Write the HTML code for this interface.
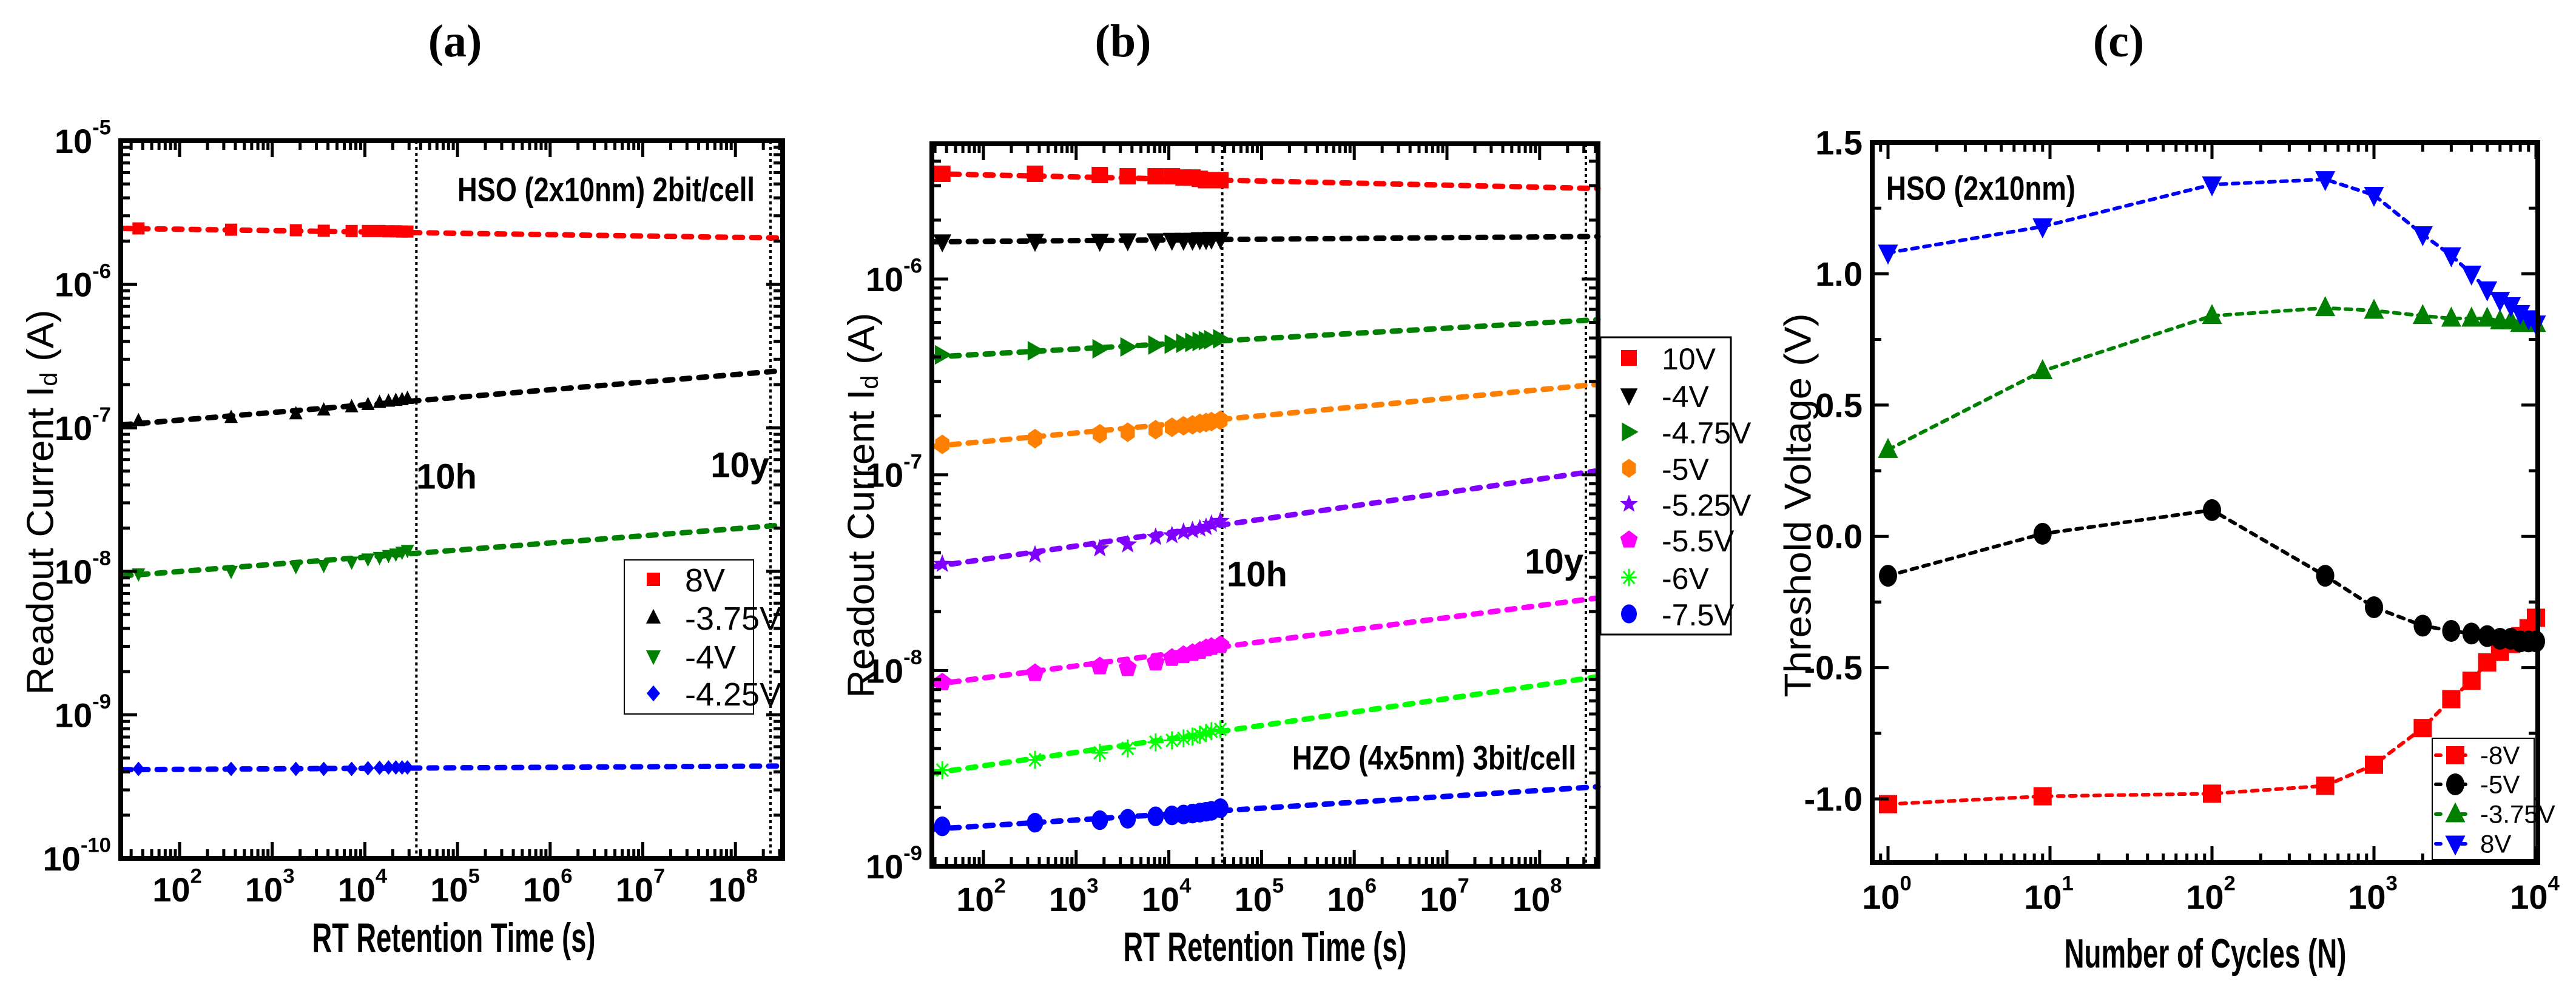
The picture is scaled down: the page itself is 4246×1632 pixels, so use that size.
<!DOCTYPE html>
<html><head><meta charset="utf-8"><style>
html,body{margin:0;padding:0;background:#fff}
svg{display:block}
</style></head><body>
<svg id="fig" width="4246" height="1632" viewBox="0 0 4246 1632" xmlns="http://www.w3.org/2000/svg" font-family="'Liberation Sans Narrow', 'Liberation Sans', sans-serif"></svg>
<script>
// ---------- Panel (a) data ----------
const aTimes = [36, 360, 1800, 3600, 7200, 10800, 14400, 18000, 21600, 25200, 28800];
const aLabels = ["8V", "-3.75V", "-4V", "-4.25V"];
const a8V = [2.45e-6, 2.4e-6, 2.38e-6, 2.36e-6, 2.35e-6, 2.35e-6, 2.35e-6, 2.34e-6, 2.34e-6, 2.33e-6, 2.33e-6];
const aM375 = [1.12e-7, 1.18e-7, 1.25e-7, 1.33e-7, 1.4e-7, 1.45e-7, 1.5e-7, 1.53e-7, 1.55e-7, 1.57e-7, 1.6e-7];
const aM4 = [9.6e-9, 1.0e-8, 1.08e-8, 1.1e-8, 1.16e-8, 1.22e-8, 1.25e-8, 1.29e-8, 1.32e-8, 1.36e-8, 1.4e-8];
const aM425 = [4.2e-10, 4.2e-10, 4.2e-10, 4.2e-10, 4.2e-10, 4.25e-10, 4.28e-10, 4.3e-10, 4.3e-10, 4.3e-10, 4.3e-10];
const aFitStart = [2.45e-6, 1.05e-7, 9.3e-9, 4.15e-10];
const aFitEnd = [2.1e-6, 2.5e-7, 2.1e-8, 4.4e-10];
const aXTicks = ["2", "3", "4", "5", "6", "7", "8"];
const aYTicks = ["-5", "-6", "-7", "-8", "-9", "-10"];

// ---------- Panel (b) data ----------
const bTimes = [36, 360, 1800, 3600, 7200, 10800, 14400, 18000, 21600, 25200, 28800, 36000];
const bLabels = ["10V", "-4V", "-4.75V", "-5V", "-5.25V", "-5.5V", "-6V", "-7.5V"];
const b10V = [3.45e-6, 3.45e-6, 3.4e-6, 3.35e-6, 3.35e-6, 3.35e-6, 3.3e-6, 3.3e-6, 3.25e-6, 3.2e-6, 3.2e-6, 3.2e-6];
const bM4 = [1.55e-6, 1.56e-6, 1.56e-6, 1.57e-6, 1.57e-6, 1.58e-6, 1.58e-6, 1.58e-6, 1.59e-6, 1.59e-6, 1.6e-6, 1.6e-6];
const bM475 = [4.1e-7, 4.3e-7, 4.4e-7, 4.5e-7, 4.6e-7, 4.65e-7, 4.7e-7, 4.75e-7, 4.8e-7, 4.85e-7, 4.9e-7, 4.95e-7];
const bM5 = [1.43e-7, 1.53e-7, 1.62e-7, 1.65e-7, 1.7e-7, 1.75e-7, 1.78e-7, 1.8e-7, 1.83e-7, 1.85e-7, 1.87e-7, 1.9e-7];
const bM525 = [3.5e-8, 3.9e-8, 4.2e-8, 4.4e-8, 4.8e-8, 4.9e-8, 5.1e-8, 5.2e-8, 5.3e-8, 5.4e-8, 5.6e-8, 5.8e-8];
const bM55 = [8.7e-9, 9.7e-9, 1.05e-8, 1.03e-8, 1.1e-8, 1.16e-8, 1.2e-8, 1.23e-8, 1.26e-8, 1.3e-8, 1.32e-8, 1.35e-8];
const bM6 = [3.1e-9, 3.5e-9, 3.8e-9, 4.0e-9, 4.3e-9, 4.4e-9, 4.5e-9, 4.6e-9, 4.7e-9, 4.8e-9, 4.9e-9, 5.0e-9];
const bM75 = [1.6e-9, 1.67e-9, 1.72e-9, 1.75e-9, 1.8e-9, 1.82e-9, 1.84e-9, 1.86e-9, 1.88e-9, 1.9e-9, 1.92e-9, 1.98e-9];
const bFitStart = [3.45e-6, 1.55e-6, 4.0e-7, 1.4e-7, 3.4e-8, 8.5e-9, 3.0e-9, 1.55e-9];
const bFitEnd = [2.9e-6, 1.65e-6, 6.2e-7, 2.9e-7, 1.05e-7, 2.35e-8, 9.3e-9, 2.55e-9];
const bXTicks = ["2", "3", "4", "5", "6", "7", "8"];
const bYTicks = ["-6", "-7", "-8", "-9"];

// ---------- Panel (c) data ----------
const cCycles = [1, 9, 100, 500, 1000, 2000, 3000, 4000, 5000, 6000, 7000, 8000, 9000, 10000];
const cLabels = ["-8V", "-5V", "-3.75V", "8V"];
const cM8 = [-1.02, -0.99, -0.98, -0.95, -0.87, -0.73, -0.62, -0.55, -0.48, -0.44, -0.41, -0.38, -0.35, -0.31];
const cM5 = [-0.15, 0.01, 0.10, -0.15, -0.27, -0.34, -0.36, -0.37, -0.38, -0.39, -0.39, -0.40, -0.40, -0.40];
const cM375 = [0.33, 0.63, 0.84, 0.87, 0.86, 0.84, 0.83, 0.83, 0.83, 0.82, 0.82, 0.81, 0.81, 0.81];
const c8V = [1.08, 1.18, 1.34, 1.36, 1.30, 1.15, 1.07, 1.00, 0.94, 0.90, 0.88, 0.85, 0.83, 0.81];
const cXTicks = ["0", "1", "2", "3", "4"];
const cYTicks = ["1.5", "1.0", "0.5", "0.0", "-0.5", "-1.0"];

const NS = "http://www.w3.org/2000/svg";
const svg = document.getElementById("fig");
function mk(tag, attrs, parent) {
  const e = document.createElementNS(NS, tag);
  for (const k in attrs) e.setAttribute(k, attrs[k]);
  (parent || svg).appendChild(e);
  return e;
}
const L = Math.log10;
const SERIF = "'Liberation Serif', serif";
const SANS = "'Liberation Sans', sans-serif";

function marker(g, shape, x, y, s, color) {
  let e;
  if (shape === "square") e = mk("rect", {x: x - s/2, y: y - s/2, width: s, height: s, fill: color}, g);
  else if (shape === "circle") e = mk("ellipse", {cx: x, cy: y, rx: s/2, ry: s*0.6, fill: color}, g);
  else if (shape === "up") e = mk("polygon", {points: `${x},${y-s*0.65} ${x+s*0.55},${y+s*0.45} ${x-s*0.55},${y+s*0.45}`, fill: color}, g);
  else if (shape === "down") e = mk("polygon", {points: `${x},${y+s*0.65} ${x+s*0.55},${y-s*0.45} ${x-s*0.55},${y-s*0.45}`, fill: color}, g);
  else if (shape === "right") e = mk("polygon", {points: `${x+s*0.6},${y} ${x-s*0.45},${y-s*0.6} ${x-s*0.45},${y+s*0.6}`, fill: color}, g);
  else if (shape === "diamond") e = mk("polygon", {points: `${x},${y-s*0.6} ${x+s*0.5},${y} ${x},${y+s*0.6} ${x-s*0.5},${y}`, fill: color}, g);
  else if (shape === "hex") { let p=[]; for(let i=0;i<6;i++){const a=Math.PI/6+i*Math.PI/3; p.push((x+s*0.5*Math.cos(a))+","+(y+s*0.6*Math.sin(a)));} e = mk("polygon",{points:p.join(" "),fill:color},g); }
  else if (shape === "pent") { let p=[]; for(let i=0;i<5;i++){const a=-Math.PI/2+i*2*Math.PI/5; p.push((x+s*0.58*Math.cos(a))+","+(y+s*0.6*Math.sin(a)));} e = mk("polygon",{points:p.join(" "),fill:color},g); }
  else if (shape === "star") { let p=[]; for(let i=0;i<10;i++){const a=-Math.PI/2+i*Math.PI/5; const r=(i%2?0.25:0.6)*s; p.push((x+r*Math.cos(a))+","+(y+r*Math.sin(a)));} e = mk("polygon",{points:p.join(" "),fill:color},g); }
  else if (shape === "aster") { e = mk("g", {stroke: color, "stroke-width": 3}, g); for (let i=0;i<4;i++){const a=i*Math.PI/4; mk("line",{x1:x-s*0.5*Math.cos(a),y1:y-s*0.55*Math.sin(a),x2:x+s*0.5*Math.cos(a),y2:y+s*0.55*Math.sin(a)},e);} }
  return e;
}

function text(str, x, y, opts, parent) {
  const t = mk("text", Object.assign({x: x, y: y, "dominant-baseline": "central"}, opts || {}), parent);
  t.textContent = str;
  return t;
}
function powLabel(g, exp, xr, y, size, anchor) {
  const t = mk("text", {x: xr, y: y, "font-size": size, "font-weight": "bold", "text-anchor": anchor, "dominant-baseline": "central"}, g);
  const a = mk("tspan", {}, t); a.textContent = "10";
  const b = mk("tspan", {dy: -size*0.38, "font-size": size*0.62}, t); b.textContent = exp;
  return t;
}

function frame(g, x0, x1, y0, y1) {
  mk("rect", {x: x0, y: y0, width: x1 - x0, height: y1 - y0, fill: "none", stroke: "#000", "stroke-width": 8}, g);
}
function tick(g, x1, y1, x2, y2) { mk("line", {x1, y1, x2, y2, stroke: "#000", "stroke-width": 5}, g); }

function logXTicks(g, X, lo, hi, x0, x1, y0, y1) {
  for (let d = Math.floor(lo); d <= Math.ceil(hi); d++) {
    for (let m = 1; m < 10; m++) {
      const lg = d + L(m); if (lg < lo || lg > hi) continue;
      const x = X(lg), len = m === 1 ? 27 : 15;
      tick(g, x, y1, x, y1 - len); tick(g, x, y0, x, y0 + len);
    }
  }
}
function logYTicks(g, Y, lo, hi, x0, x1) {
  for (let d = Math.floor(lo); d <= Math.ceil(hi); d++) {
    for (let m = 1; m < 10; m++) {
      const lg = d + L(m); if (lg < lo || lg > hi) continue;
      const y = Y(lg), len = m === 1 ? 27 : 15;
      tick(g, x0, y, x0 + len, y); tick(g, x1, y, x1 - len, y);
    }
  }
}
function dashLine(g, pts, color, w) {
  return mk("polyline", {points: pts.map(p => p.join(",")).join(" "), fill: "none", stroke: color, "stroke-width": w, "stroke-dasharray": "13 15", "stroke-linecap": "round"}, g);
}

// ================= Panel (a) =================
(function () {
  const g = mk("g", {});  
  const x0 = 199, x1 = 1290, y0 = 232, y1 = 1415;
  const X = lg => 296 + (lg - 2) * 152.7;
  const Y = lg => 232 + (-5 - lg) * 236.6;
  const xlo = 2 - (296 - x0) / 152.7, xhi = 8 + (x1 - 1212) / 152.7;
  const t = text("(a)", 750, 68, {"font-family": SERIF, "font-size": 76, "font-weight": "bold", "text-anchor": "middle"});
   
  const v1 = mk("line", {x1: X(L(36000)), y1: y0, x2: X(L(36000)), y2: y1, stroke: "#000", "stroke-width": 4, "stroke-dasharray": "5 5"}, g);
   
  const v2 = mk("line", {x1: 1270, y1: y0, x2: 1270, y2: y1, stroke: "#000", "stroke-width": 4, "stroke-dasharray": "5 5"}, g);
   
  const series = [a8V, aM375, aM4, aM425];
  const colors = ["#ff0000", "#000000", "#008000", "#0000ff"];
  const shapes = ["square", "up", "down", "diamond"];
  series.forEach((vals, i) => {
    const sg = mk("g", {}, g);
     
    dashLine(sg, [[x0 + 4, Y(L(aFitStart[i]))], [x1, Y(L(aFitEnd[i]))]], colors[i], 9);
    vals.forEach((v, j) => {
      const m = marker(sg, shapes[i], X(L(aTimes[j])), Y(L(v)), 20, colors[i]);
       
    });
  });
  frame(g, x0, x1, y0, y1);
  logXTicks(g, X, xlo, xhi, x0, x1, y0, y1);
  logYTicks(g, Y, -10, -5, x0, x1);
  aXTicks.forEach(e => { const l = powLabel(g, e, X(+e) - 4, 1466, 56, "middle");   });
  aYTicks.forEach(e => { const l = powLabel(g, e, x0 - 16, Y(+e), 56, "end");   });
  const xt = text("RT Retention Time (s)", 748, 1546, {"font-size": 68, "font-weight": "bold", "text-anchor": "middle", textLength: 467, lengthAdjust: "spacingAndGlyphs"}, g);
   
  const yt = mk("text", {x: 0, y: 0, "font-size": 62, "text-anchor": "middle", "dominant-baseline": "central", transform: "translate(67,828) rotate(-90)", textLength: 635, lengthAdjust: "spacingAndGlyphs", "font-family": SANS}, g);
  yt.innerHTML = 'Readout Current I<tspan font-size="40" dy="14">d</tspan><tspan dy="-14"> (A)</tspan>';
   
  const n1 = text("HSO (2x10nm) 2bit/cell", 1244, 312, {"font-size": 56, "font-weight": "bold", "text-anchor": "end", textLength: 490, lengthAdjust: "spacingAndGlyphs"}, g);
   
  const n2 = text("10h", 686, 786, {"font-size": 58, "font-weight": "bold"}, g);
   
  const n3 = text("10y", 1268, 767, {"font-size": 58, "font-weight": "bold", "text-anchor": "end"}, g);
   
  const lg = mk("g", {}, g);  
  mk("rect", {x: 1029, y: 923, width: 213, height: 254, fill: "#fff", stroke: "#000", "stroke-width": 2}, lg);
  const ly = [955, 1018, 1082, 1143];
  aLabels.forEach((lab, i) => {
    const e = mk("g", {}, lg);  
    marker(e, shapes[i], 1077, ly[i], 22, colors[i]);
    text(lab, 1129, ly[i] + 2, {"font-size": 54}, e);
  });
})();

// ================= Panel (b) =================
(function () {
  const g = mk("g", {});  
  const x0 = 1536, x1 = 2634, y0 = 237, y1 = 1428;
  const X = lg => 1621 + (lg - 2) * 152.8;
  const Y = lg => 460 + (-6 - lg) * 322.7;
  const xlo = 2 - (1621 - x0) / 152.8, xhi = 8 + (x1 - 2538) / 152.8;
  const ylo = -9, yhi = -6 + (460 - y0) / 322.7;
  const t = text("(b)", 1851, 68, {"font-family": SERIF, "font-size": 76, "font-weight": "bold", "text-anchor": "middle"});
   
  const v1 = mk("line", {x1: X(L(36000)) + 3, y1: y0, x2: X(L(36000)) + 3, y2: y1, stroke: "#000", "stroke-width": 4, "stroke-dasharray": "5 5"}, g);
   
  const v2 = mk("line", {x1: 2614, y1: y0, x2: 2614, y2: y1, stroke: "#000", "stroke-width": 4, "stroke-dasharray": "5 5"}, g);
   
  const series = [b10V, bM4, bM475, bM5, bM525, bM55, bM6, bM75];
  const colors = ["#ff0000", "#000000", "#008000", "#ff8000", "#8000ff", "#ff00ff", "#00ff00", "#0000ff"];
  const shapes = ["square", "down", "right", "hex", "star", "pent", "aster", "circle"];
  series.forEach((vals, i) => {
    const sg = mk("g", {}, g);
     
    dashLine(sg, [[x0 + 4, Y(L(bFitStart[i]))], [x1, Y(L(bFitEnd[i]))]], colors[i], 9);
    vals.forEach((v, j) => {
      const m = marker(sg, shapes[i], X(L(bTimes[j])), Y(L(v)), 27, colors[i]);
       
    });
  });
  frame(g, x0, x1, y0, y1);
  logXTicks(g, X, xlo, xhi, x0, x1, y0, y1);
  logYTicks(g, Y, ylo, yhi, x0, x1);
  bXTicks.forEach(e => { const l = powLabel(g, e, X(+e) - 4, 1482, 56, "middle");   });
  bYTicks.forEach(e => { const l = powLabel(g, e, x0 - 16, Y(+e), 56, "end");   });
  const xt = text("RT Retention Time (s)", 2085, 1561, {"font-size": 68, "font-weight": "bold", "text-anchor": "middle", textLength: 467, lengthAdjust: "spacingAndGlyphs"}, g);
   
  const yt = mk("text", {x: 0, y: 0, "font-size": 62, "text-anchor": "middle", "dominant-baseline": "central", transform: "translate(1420,833) rotate(-90)", textLength: 635, lengthAdjust: "spacingAndGlyphs", "font-family": SANS}, g);
  yt.innerHTML = 'Readout Current I<tspan font-size="40" dy="14">d</tspan><tspan dy="-14"> (A)</tspan>';
   
  const n1 = text("HZO (4x5nm) 3bit/cell", 2598, 1249, {"font-size": 56, "font-weight": "bold", "text-anchor": "end", textLength: 468, lengthAdjust: "spacingAndGlyphs"}, g);
   
  const n2 = text("10h", 2022, 947, {"font-size": 58, "font-weight": "bold"}, g);
   
  const n3 = text("10y", 2610, 926, {"font-size": 58, "font-weight": "bold", "text-anchor": "end"}, g);
   
  const lg = mk("g", {}, g);  
  mk("rect", {x: 2638, y: 556, width: 215, height: 490, fill: "#fff", stroke: "#000", "stroke-width": 3}, lg);
  const ly = [590, 652, 712, 772, 831, 890, 952, 1012];
  bLabels.forEach((lab, i) => {
    const e = mk("g", {}, lg);  
    marker(e, shapes[i], 2685, ly[i], 26, colors[i]);
    text(lab, 2739, ly[i] + 2, {"font-size": 50}, e);
  });
})();

// ================= Panel (c) =================
(function () {
  const g = mk("g", {});  
  const x0 = 3086, x1 = 4183, y0 = 235, y1 = 1422;
  const X = lg => 3112 + lg * 267;
  const Y = v => 235 + (1.5 - v) * 432.8;
  const xlo = (x0 - 3112) / 267, xhi = (x1 - 3112) / 267;
  const t = text("(c)", 3492, 68, {"font-family": SERIF, "font-size": 76, "font-weight": "bold", "text-anchor": "middle"});
   
  const series = [cM8, cM5, cM375, c8V];
  const colors = ["#ff0000", "#000000", "#008000", "#0000ff"];
  const shapes = ["square", "circle", "up", "down"];
  series.forEach((vals, i) => {
    const sg = mk("g", {}, g);
     
    dashLine(sg, vals.map((v, j) => [X(L(cCycles[j])), Y(v)]), colors[i], 6).setAttribute("stroke-dasharray", "10 10");
    vals.forEach((v, j) => {
      const m = marker(sg, shapes[i], X(L(cCycles[j])), Y(v), 30, colors[i]);
       
    });
  });
  frame(g, x0, x1, y0, y1);
  logXTicks(g, X, xlo, xhi, x0, x1, y0, y1);
  for (let k = 0; k <= 10; k++) {
    const v = 1.5 - k * 0.25; const y = Y(v); if (y > y1) continue;
    const len = k % 2 === 0 ? 27 : 15;
    tick(g, x0, y, x0 + len, y); tick(g, x1, y, x1 - len, y);
  }
  cXTicks.forEach(e => { const l = powLabel(g, e, X(+e) - 2, 1478, 56, "middle");   });
  cYTicks.forEach(v => { const l = text(v, x0 - 16, Y(+v), {"font-size": 56, "font-weight": "bold", "text-anchor": "end"}, g);   });
  const xt = text("Number of Cycles (N)", 3635, 1572, {"font-size": 68, "font-weight": "bold", "text-anchor": "middle", textLength: 465, lengthAdjust: "spacingAndGlyphs"}, g);
   
  const yt = text("Threshold Voltage (V)", 0, 0, {"font-size": 62, "text-anchor": "middle", transform: "translate(2964,833) rotate(-90)", textLength: 633, lengthAdjust: "spacingAndGlyphs", "font-family": SANS}, g);
   
  const n1 = text("HSO (2x10nm)", 3109, 310, {"font-size": 56, "font-weight": "bold", textLength: 312, lengthAdjust: "spacingAndGlyphs"}, g);
   
  const lg = mk("g", {}, g);  
  mk("rect", {x: 4009, y: 1217, width: 168, height: 200, fill: "#fff", stroke: "#000", "stroke-width": 2}, lg);
  const ly = [1245, 1293, 1342, 1391];
  cLabels.forEach((lab, i) => {
    const e = mk("g", {}, lg);  
    mk("line", {x1: 4015, y1: ly[i], x2: 4076, y2: ly[i], stroke: colors[i], "stroke-width": 6, "stroke-dasharray": "8 33", "stroke-linecap": "round"}, e);
    marker(e, shapes[i], 4047, ly[i], 30, colors[i]);
    text(lab, 4088, ly[i], {"font-size": 42}, e);
  });
})();
</script>
</body></html>
